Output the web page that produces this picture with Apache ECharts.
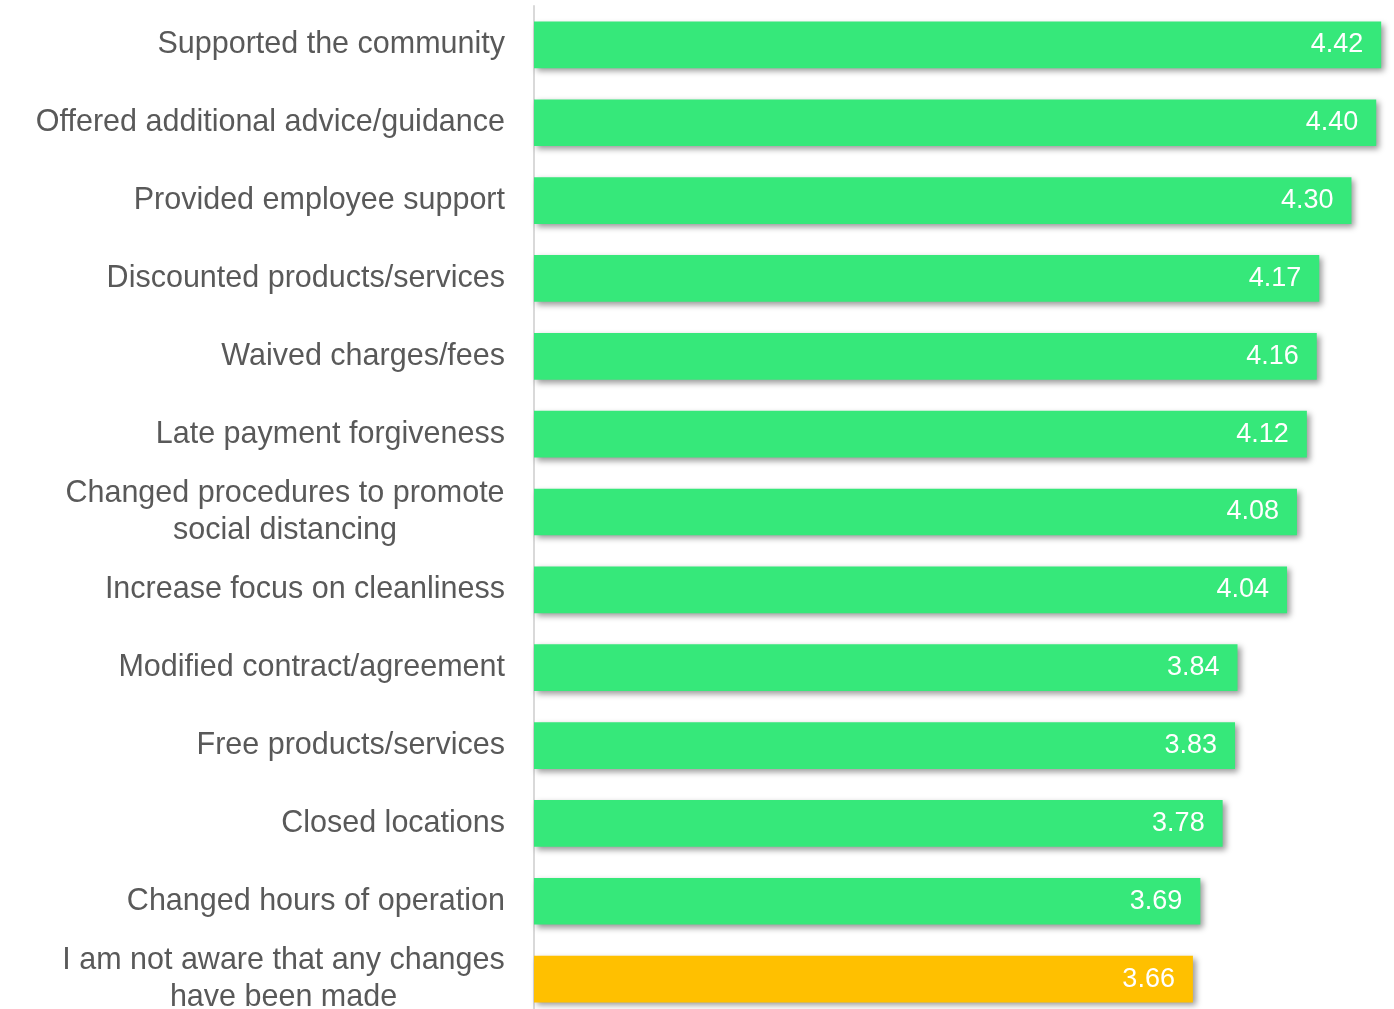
<!DOCTYPE html>
<html>
<head>
<meta charset="utf-8">
<title>Actions taken</title>
<script src="https://cdn.jsdelivr.net/npm/echarts@6/dist/echarts.min.js"></script>
<style>
  html, body { margin: 0; padding: 0; background: #ffffff; }
  #chart { width: 1394px; height: 1009px; }
</style>
</head>
<body>
<div id="chart"></div>
<script>
// Actions, top to bottom
const categories = [
  'Supported the community',
  'Offered additional advice/guidance',
  'Provided employee support',
  'Discounted products/services',
  'Waived charges/fees',
  'Late payment forgiveness',
  'Changed procedures to promote\nsocial distancing',
  'Increase focus on cleanliness',
  'Modified contract/agreement',
  'Free products/services',
  'Closed locations',
  'Changed hours of operation',
  'I am not aware that any changes\nhave been made'
];
// Mean rating per action
const scores = [4.42, 4.40, 4.30, 4.17, 4.16, 4.12, 4.08, 4.04, 3.84, 3.83, 3.78, 3.69, 3.66];
// The "no changes" answer is highlighted
const highlightIndex = [12];

const GREEN = '#36E87A';
const AMBER = '#FFC000';
const FONT = 'Liberation Sans, Arial, sans-serif';
const LABEL_SIZE = 30.5;

const seriesData = scores.map((v, i) => ({
  value: v,
  itemStyle: { color: highlightIndex.includes(i) ? AMBER : GREEN }
}));

// Wrapped labels: centre each line inside a block as wide as its longest line
const measureCtx = document.createElement('canvas').getContext('2d');
measureCtx.font = LABEL_SIZE + 'px ' + FONT;
const rich = {};
const labelKey = {};
categories.forEach((c, i) => {
  if (c.indexOf('\n') < 0) return;
  const w = Math.ceil(Math.max(...c.split('\n').map(s => measureCtx.measureText(s).width)));
  const key = 'w' + i;
  labelKey[c] = key;
  rich[key] = { width: w, align: 'center', fontFamily: FONT, fontSize: LABEL_SIZE, color: '#595959', lineHeight: 37 };
});

const chart = echarts.init(document.getElementById('chart'), null, { renderer: 'canvas' });
chart.setOption({
  animation: false,
  grid: { left: 534, top: 6, width: 867, height: 1012, outerBoundsMode: 'none' },
  xAxis: {
    type: 'value', min: 1, max: 4.5, show: false
  },
  yAxis: {
    type: 'category',
    data: categories,
    inverse: true,
    axisTick: { show: false },
    axisLine: { show: true, lineStyle: { color: '#d9d9d9', width: 2 } },
    axisLabel: {
      margin: 29,
      fontFamily: FONT,
      fontSize: LABEL_SIZE,
      color: '#595959',
      lineHeight: 37,
      formatter: function (val) {
        const key = labelKey[val];
        if (!key) return val;
        return val.split('\n').map(s => '{' + key + '|' + s + '}').join('\n');
      },
      rich: rich
    }
  },
  series: [{
    type: 'bar',
    data: seriesData,
    barWidth: '60%',
    itemStyle: {
      shadowColor: 'rgba(0,0,0,0.4)',
      shadowBlur: 6,
      shadowOffsetX: 3,
      shadowOffsetY: 3
    },
    label: {
      show: true,
      position: 'insideRight',
      distance: 18,
      color: '#ffffff',
      fontFamily: FONT,
      fontSize: 27,
      formatter: p => p.value.toFixed(2)
    }
  }]
});
</script>
</body>
</html>
